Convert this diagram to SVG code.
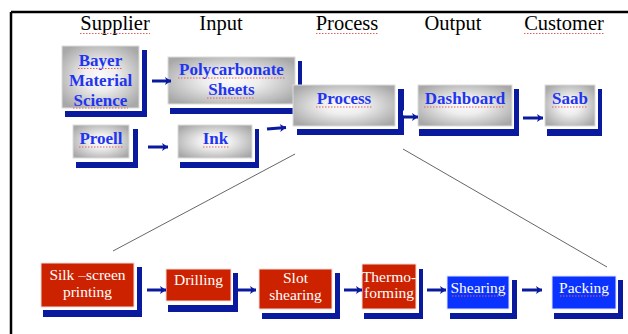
<svg xmlns="http://www.w3.org/2000/svg" width="628" height="334" viewBox="0 0 628 334">
<defs>
<radialGradient id="gray" cx="0.5" cy="0.5" r="0.62">
<stop offset="0" stop-color="#fbfbfb"/>
<stop offset="0.35" stop-color="#eeeeee"/>
<stop offset="1" stop-color="#a8a8a8"/>
</radialGradient>
<marker id="ah" markerUnits="userSpaceOnUse" markerWidth="8" markerHeight="9" refX="7" refY="4.5" orient="auto">
<path d="M1,0.5 L7,4.5 L1,8.5 L2.5,4.5 Z" fill="#0a1a9e"/>
</marker>
</defs>
<style>
.hdr{font-family:"Liberation Serif","Times New Roman",serif;font-size:20.5px;fill:#000;text-anchor:middle}
.lbl{font-family:"Liberation Serif","Times New Roman",serif;font-size:17px;font-weight:bold;fill:#1f35f0;text-anchor:middle}
.wl{font-family:"Liberation Serif","Times New Roman",serif;font-size:15.5px;fill:#fff;text-anchor:middle}
.gbox{fill:url(#gray);stroke:#dcdcdc;stroke-width:1}
.rbox{fill:#cc2200;stroke:#f2dede;stroke-width:1}
.bbox{fill:#0a33ff;stroke:#e2e6ff;stroke-width:1}
.sh{fill:#0a1a9e}
.sq{stroke:#e06060;stroke-width:1;stroke-dasharray:1.5 1.5;fill:none}
.ar{stroke:#0a1a9e;stroke-width:3;fill:none;marker-end:url(#ah)}
.aro{stroke:#fff;stroke-width:5;fill:none}
.dl{stroke:#666;stroke-width:1;fill:none}
</style>
<rect x="0" y="0" width="628" height="334" fill="#fff"/>
<g id="frame">
<path d="M11,12 H628 M11,12 V334" stroke="#000" stroke-width="2.5" fill="none"/>
</g>
<g id="headers">
<text class="hdr" x="115" y="30">Supplier</text>
<text class="hdr" x="221" y="30">Input</text>
<text class="hdr" x="347" y="30">Process</text>
<text class="hdr" x="453" y="30">Output</text>
<text class="hdr" x="564" y="30">Customer</text>
<path class="sq" d="M80,33.5 H150 M316,33.5 H379 M524,33.5 H604"/>
</g>
<g id="lines">
<path class="dl" d="M295,154 L113,251"/>
<path class="dl" d="M403,149 L607,267"/>
</g>
<g id="bayer">
<path class="sh" d="M142,50 H147 V117 H65 V111 H142 Z"/>
<rect class="gbox" x="62" y="46" width="77" height="62"/>
<text class="lbl" x="100.5" y="66">Bayer</text>
<text class="lbl" x="100.5" y="86">Material</text>
<text class="lbl" x="100.5" y="106">Science</text>
<path class="sq" d="M78,68.5 H122 M73,108 H128"/>
</g>
<g id="polycarbonate">
<path class="sh" d="M298,61 H302 V114 H170 V108 H298 Z"/>
<rect class="gbox" x="168" y="57" width="127" height="47"/>
<text class="lbl" x="231.5" y="75">Polycarbonate</text>
<text class="lbl" x="231.5" y="95">Sheets</text>
<path class="sq" d="M178,78 H285 M207,98 H254"/>
</g>
<g id="proell">
<path class="sh" d="M133,129 H138 V168 H76 V162 H133 Z"/>
<rect class="gbox" x="73" y="125" width="56" height="33"/>
<text class="lbl" x="101" y="144">Proell</text>
<path class="sq" d="M79,147 H123"/>
</g>
<g id="ink">
<path class="sh" d="M255,129 H259 V168 H180 V162 H255 Z"/>
<rect class="gbox" x="178" y="125" width="74" height="33"/>
<text class="lbl" x="215.5" y="144">Ink</text>
<path class="sq" d="M203,147 H229"/>
</g>
<g id="process">
<path class="sh" d="M398,89 H404 V135 H297 V129 H398 Z"/>
<rect class="gbox" x="293" y="85" width="102" height="41"/>
<text class="lbl" x="344" y="104">Process</text>
<path class="sq" d="M316,107 H372"/>
</g>
<g id="dashboard">
<path class="sh" d="M514,89 H519 V136 H419 V129 H514 Z"/>
<rect class="gbox" x="418" y="85" width="94" height="41"/>
<text class="lbl" x="465" y="104">Dashboard</text>
<path class="sq" d="M424,107 H504"/>
</g>
<g id="saab">
<path class="sh" d="M598,89 H602 V136 H547 V129 H598 Z"/>
<rect class="gbox" x="545" y="85" width="50" height="41"/>
<text class="lbl" x="570" y="104">Saab</text>
<path class="sq" d="M552,107 H587"/>
</g>
<g id="silkscreen">
<path class="sh" d="M137,267 H142 V317 H43 V310 H137 Z"/>
<rect class="rbox" x="41" y="263" width="93" height="44"/>
<text class="wl" x="87.5" y="280">Silk –screen</text>
<text class="wl" x="87.5" y="297">printing</text>
</g>
<g id="drilling">
<path class="sh" d="M233,273 H238 V312 H168 V305 H233 Z"/>
<rect class="rbox" x="166" y="269" width="65" height="32"/>
<text class="wl" x="198.5" y="285">Drilling</text>
</g>
<g id="slotshearing">
<path class="sh" d="M335,273 H340 V319 H262 V313 H335 Z"/>
<rect class="rbox" x="259" y="269" width="73" height="40"/>
<text class="wl" x="295.5" y="283">Slot</text>
<text class="wl" x="295.5" y="300">shearing</text>
</g>
<g id="thermoforming">
<path class="sh" d="M419,269 H423 V319 H364 V313 H419 Z"/>
<rect class="rbox" x="362" y="264" width="54" height="45"/>
<text class="wl" x="389" y="282">Thermo-</text>
<text class="wl" x="389" y="298">forming</text>
</g>
<g id="shearing">
<path class="sh" d="M512,280 H517 V319 H450 V313 H512 Z"/>
<rect class="bbox" x="447" y="276" width="62" height="33"/>
<text class="wl" x="478" y="293">Shearing</text>
<path class="sq" d="M452,296 H504"/>
</g>
<g id="packing">
<path class="sh" d="M618,280 H623 V319 H554 V313 H618 Z"/>
<rect class="bbox" x="552" y="276" width="64" height="33"/>
<text class="wl" x="584" y="293">Packing</text>
<path class="sq" d="M560,296 H608"/>
</g>
<g id="connectors">
<path class="ar" d="M152,81 H171"/>
<path class="ar" d="M148,147 H168"/>
<path class="ar" d="M267,129 L286,127.5"/>
<path class="aro" d="M403,113 H410"/>
<path class="ar" d="M403,117 H418"/>
<path class="ar" d="M523,118 H543"/>
<path class="ar" d="M147,290 H166"/>
<path class="aro" d="M238,286 H244"/>
<path class="ar" d="M238,290 H256"/>
<path class="ar" d="M344,290 H362"/>
<path class="ar" d="M427,290 H446"/>
<path class="ar" d="M522,290 H542"/>
</g>
</svg>
